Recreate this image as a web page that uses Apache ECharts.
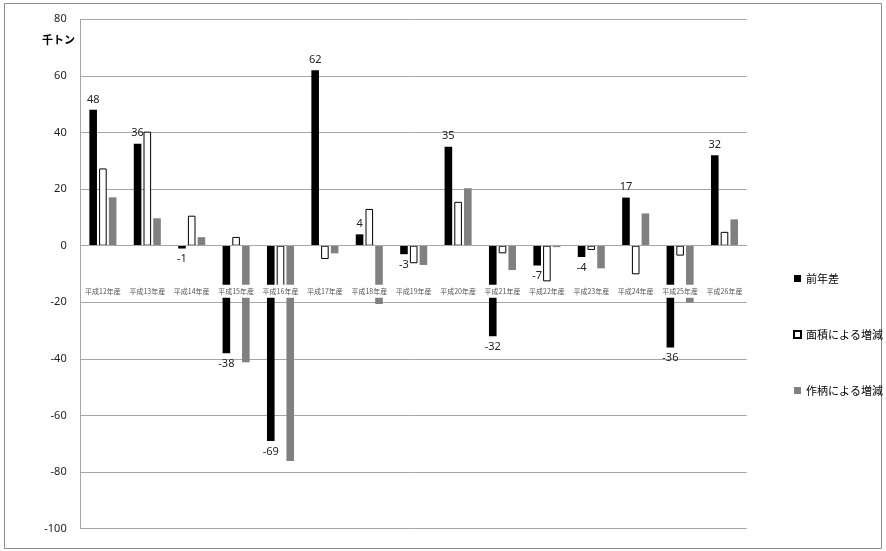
<!DOCTYPE html>
<html>
<head>
<meta charset="utf-8">
<script src="https://cdn.jsdelivr.net/npm/echarts@6/dist/echarts.min.js"></script>
<style>
  html, body { margin: 0; padding: 0; background: #fff; }
  #chart { width: 886px; height: 551px; }
</style>
</head>
<body>
<div id="chart"></div>
<script>
// Crop categories (harvest years)
const categories = ['平成12年産', '平成13年産', '平成14年産', '平成15年産', '平成16年産',
  '平成17年産', '平成18年産', '平成19年産', '平成20年産', '平成21年産',
  '平成22年産', '平成23年産', '平成24年産', '平成25年産', '平成26年産'];

// Change from previous year (thousand tonnes)
const prevYearDiff = [48, 36, -1, -38, -69, 62, 4, -3, 35, -32, -7, -4, 17, -36, 32];
// Change attributable to planted area
const areaChange = [27.3, 40.3, 10.6, 3.1, -17, -4.7, 13.0, -6.2, 15.5, -2.7, -12.6, -1.5, -10.1, -3.5, 4.9];
// Change attributable to yield
const yieldChange = [17.1, 9.7, 3.0, -41.2, -76.1, -2.7, -20.6, -6.8, 20.3, -8.6, -0.5, -8.0, 11.4, -20.1, 9.3];

const yTicks = { min: -100, max: 80, interval: 20 };

const numFont = '"Noto Sans", "Liberation Sans", sans-serif';
const jpFont = '"Noto Sans CJK JP", sans-serif';

// Plot rectangle
const GRID = { left: 80.7, right: 139.3, top: 19.3, bottom: 22.3 };
const plotH = 551 - GRID.top - GRID.bottom;
// Distance from the bottom edge of the plot up to the zero line
const zeroFromBottom = plotH * (0 - yTicks.min) / (yTicks.max - yTicks.min);

const chart = echarts.init(document.getElementById('chart'), null, { renderer: 'canvas' });

// Value labels only on the year-on-year series: above positive bars, below negative ones
const diffData = prevYearDiff.map(v => ({
  value: v,
  label: { position: v >= 0 ? 'top' : 'bottom' }
}));

const barW = 7.6;

chart.setOption({
  animation: false,
  backgroundColor: '#fff',
  title: {
    text: '千トン',
    left: 37,
    top: 29,
    textStyle: { fontFamily: jpFont, fontSize: 11, fontWeight: 'bold', color: '#000' }
  },
  grid: Object.assign({ containLabel: false, outerBoundsMode: 'none' }, GRID),
  legend: {
    orient: 'vertical',
    left: 788,
    top: 268,
    itemWidth: 7,
    itemHeight: 7,
    itemGap: 45,
    icon: 'rect',
    textStyle: { fontFamily: jpFont, fontSize: 11, color: '#000' },
    data: ['前年差', '面積による増減', '作柄による増減']
  },
  xAxis: {
    type: 'category',
    data: categories,
    position: 'bottom',
    // category axis sits on the zero line
    offset: -zeroFromBottom,
    z: 5,
    axisLine: { onZero: false, lineStyle: { color: '#a6a6a6', width: 1 } },
    axisTick: { show: false },
    axisLabel: {
      interval: 0,
      margin: 39,
      fontFamily: jpFont,
      fontSize: 7,
      color: '#555',
      backgroundColor: '#fff',
      padding: [3, 1, 3, 1]
    }
  },
  yAxis: {
    type: 'value',
    min: yTicks.min,
    max: yTicks.max,
    interval: yTicks.interval,
    axisLine: { show: true, lineStyle: { color: '#a6a6a6', width: 1 } },
    axisTick: { show: false },
    splitLine: { lineStyle: { color: '#a6a6a6', width: 1 } },
    axisLabel: { margin: 14, fontFamily: numFont, fontSize: 11, color: '#222' }
  },
  series: [
    {
      name: '前年差',
      type: 'bar',
      barWidth: barW,
      barGap: '28%',
      data: diffData,
      itemStyle: { color: '#000' },
      label: {
        show: true,
        distance: 5,
        fontFamily: numFont,
        fontSize: 11,
        color: '#222'
      }
    },
    {
      name: '面積による増減',
      type: 'bar',
      barWidth: barW,
      barGap: '28%',
      data: areaChange,
      itemStyle: { color: '#fff', borderColor: '#000', borderWidth: 1 }
    },
    {
      name: '作柄による増減',
      type: 'bar',
      barWidth: barW,
      barGap: '28%',
      data: yieldChange,
      itemStyle: { color: '#808080' }
    }
  ],
  graphic: [
    {
      type: 'rect',
      shape: { x: 4.5, y: 3.5, width: 877, height: 545 },
      style: { fill: null, stroke: '#8c8c8c', lineWidth: 1 },
      silent: true,
      z: -1
    }
  ]
});
</script>
</body>
</html>
